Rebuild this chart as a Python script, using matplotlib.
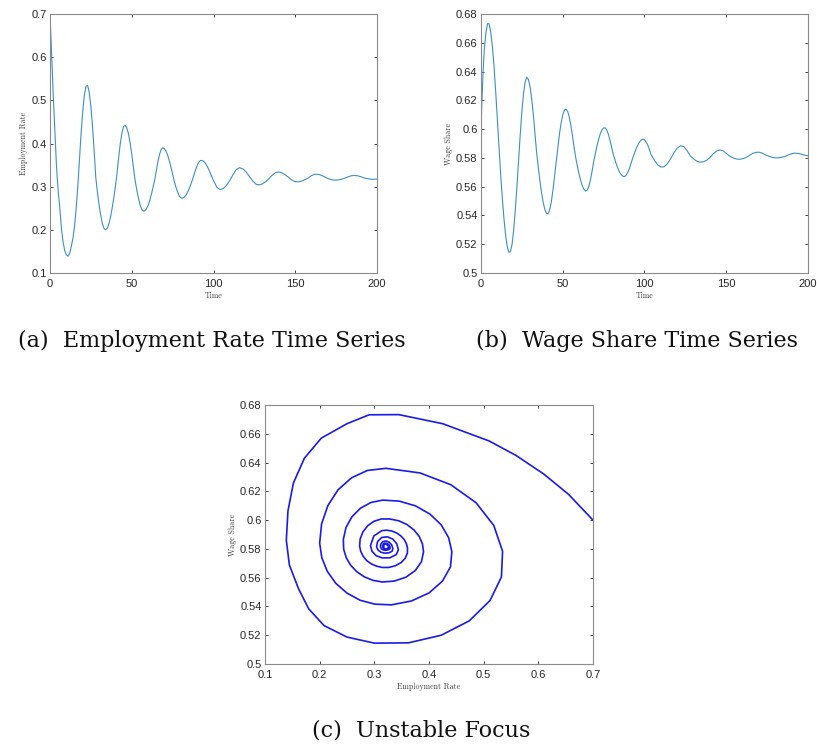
import matplotlib
matplotlib.use("Agg")
import matplotlib.pyplot as plt
from matplotlib.ticker import FormatStrFormatter

plt.rcParams['font.family'] = ['Liberation Sans', 'DejaVu Sans']

# values (sample times, employment rate, wage share)
time = [0, 0.5, 1, 1.5, 2, 3, 4, 5, 6, 7, 8, 9, 10, 11, 12, 13, 14, 15, 16, 17, 18, 19,
        20, 21, 22, 23, 24, 25, 26, 27, 28, 29, 30, 31, 32, 33, 34, 35, 36, 37, 38, 39,
        40, 41, 42, 43, 44, 45, 46, 47, 48, 49, 50, 51, 52, 53, 54, 55, 56, 57, 58, 59,
        60, 61, 62, 63, 64, 65, 66, 67, 68, 69, 70, 71, 72, 73, 74, 75, 76, 77, 78, 79,
        80, 81, 82, 83, 84, 85, 86, 87, 88, 89, 90, 91, 92, 93, 94, 95, 96, 97, 98, 99,
        100, 102, 104, 106, 108, 110, 112, 114, 116, 118, 120, 122, 124, 126, 128, 130,
        132, 134, 136, 138, 140, 142, 144, 146, 148, 150, 152, 154, 156, 158, 160, 162,
        164, 166, 168, 170, 172, 174, 176, 178, 180, 182, 184, 186, 188, 190, 192, 194,
        196, 198, 200]

employment = [0.700, 0.655, 0.610, 0.559, 0.510, 0.425, 0.345, 0.2905, 0.250, 0.203, 0.172,
              0.152, 0.142, 0.139, 0.1446, 0.1611, 0.180, 0.208, 0.250, 0.300, 0.3624, 0.4224,
              0.4737, 0.5116, 0.5325, 0.5346, 0.5185, 0.486, 0.4399, 0.3833, 0.3212, 0.2872,
              0.2584, 0.2337, 0.215, 0.2035, 0.200, 0.2039, 0.2138, 0.2294, 0.2499, 0.274,
              0.3007, 0.3313, 0.3678, 0.4001, 0.4246, 0.4393, 0.4418, 0.436, 0.4224, 0.4016,
              0.3754, 0.3454, 0.3156, 0.2941, 0.2747, 0.259, 0.2482, 0.2433, 0.2439, 0.2486,
              0.2567, 0.2681, 0.282, 0.2979, 0.3148, 0.3362, 0.3577, 0.375, 0.3862, 0.390,
              0.388, 0.382, 0.3724, 0.3598, 0.3449, 0.3284, 0.3129, 0.2994, 0.2878, 0.2791,
              0.274, 0.2731, 0.2751, 0.2795, 0.286, 0.2943, 0.304, 0.3146, 0.3264, 0.3386,
              0.349, 0.3565, 0.3605, 0.3607, 0.3585, 0.3544, 0.3483, 0.3407, 0.3321, 0.3229,
              0.3139, 0.2991, 0.293, 0.2956, 0.3032, 0.3144, 0.3283, 0.3401, 0.344, 0.341,
              0.3338, 0.3238, 0.3134, 0.3059, 0.3041, 0.3066, 0.3119, 0.3189, 0.3269, 0.3326,
              0.3339, 0.3317, 0.3271, 0.321, 0.3151, 0.3115, 0.3112, 0.313, 0.3162, 0.3203,
              0.3258, 0.3288, 0.3285, 0.3263, 0.3227, 0.3189, 0.3162, 0.315, 0.3155, 0.317,
              0.3192, 0.3223, 0.325, 0.326, 0.3253, 0.3233, 0.3205, 0.3186, 0.3174, 0.3172,
              0.3175]

wage_share = [0.600, 0.618, 0.632, 0.645, 0.655, 0.667, 0.6733, 0.6732, 0.667, 0.657, 0.643,
              0.6258, 0.6064, 0.586, 0.5688, 0.5525, 0.5383, 0.5267, 0.5187, 0.5145, 0.5147,
              0.520, 0.530, 0.5441, 0.5605, 0.5783, 0.5963, 0.6121, 0.6246, 0.6328, 0.636,
              0.6345, 0.6294, 0.6211, 0.6101, 0.5973, 0.584, 0.5739, 0.5645, 0.5561, 0.5493,
              0.5443, 0.5416, 0.5411, 0.5438, 0.5494, 0.5576, 0.5675, 0.578, 0.5877, 0.5967,
              0.6042, 0.6099, 0.6132, 0.6139, 0.6123, 0.6083, 0.6023, 0.5949, 0.5866, 0.5798,
              0.5739, 0.5686, 0.5641, 0.5605, 0.5581, 0.557, 0.5576, 0.5603, 0.565, 0.5711,
              0.578, 0.5835, 0.5887, 0.5932, 0.5969, 0.5995, 0.6008, 0.6008, 0.5992, 0.5961,
              0.5918, 0.5868, 0.5819, 0.5783, 0.5749, 0.5719, 0.5696, 0.568, 0.5671, 0.5671,
              0.5683, 0.5705, 0.5735, 0.5771, 0.5806, 0.5838, 0.5866, 0.5891, 0.5911, 0.5924,
              0.593, 0.5927, 0.589, 0.5824, 0.5784, 0.5753, 0.5737, 0.5738, 0.576, 0.5794,
              0.5836, 0.5868, 0.5884, 0.5879, 0.5851, 0.5814, 0.5793, 0.5777, 0.577, 0.5773,
              0.5784, 0.5802, 0.5828, 0.5847, 0.5855, 0.585, 0.5831, 0.5813, 0.5801, 0.5793,
              0.579, 0.5794, 0.5802, 0.5816, 0.583, 0.5838, 0.584, 0.5833, 0.5821, 0.5812,
              0.5804, 0.580, 0.5801, 0.5805, 0.581, 0.5821, 0.5829, 0.5833, 0.5831, 0.5826,
              0.5819, 0.5814]

time_ticks = [0, 50, 100, 150, 200]
emp_ticks = [0.1, 0.2, 0.3, 0.4, 0.5, 0.6, 0.7]
wage_ticks = [0.5, 0.52, 0.54, 0.56, 0.58, 0.6, 0.62, 0.64, 0.66, 0.68]

captions = ["(a)  Employment Rate Time Series",
            "(b)  Wage Share Time Series",
            "(c)  Unstable Focus"]

W, H = 817, 745
fig = plt.figure(figsize=(W / 100, H / 100), dpi=100)


def box(x0, y0, x1, y1):
    # pixel box -> figure fraction
    return [x0 / W, 1 - y1 / H, (x1 - x0) / W, (y1 - y0) / H]


def matlab_style(ax):
    for s in ax.spines.values():
        s.set_color('#8a8a8a')
        s.set_linewidth(0.8)
    ax.tick_params(direction='in', top=True, right=True, length=2.5, width=0.6,
                   color='#262626', labelcolor='#262626', labelsize=8)
    ax.tick_params(axis='x', pad=4.5)
    ax.tick_params(axis='y', pad=2.5)
    ax.yaxis.set_major_formatter(FormatStrFormatter('%g'))
    ax.xaxis.set_major_formatter(FormatStrFormatter('%g'))


lab = dict(family='cmr10', size=5.7, color='#404040')

# (a) employment rate
ax1 = fig.add_axes(box(50, 14, 377, 273))
ax1.plot(time, employment, color='#3d8fc7', lw=0.8)
ax1.set_xlim(0, 200)
ax1.set_ylim(0.1, 0.7)
ax1.set_xticks(time_ticks)
ax1.set_yticks(emp_ticks)
matlab_style(ax1)
ax1.set_xlabel('Time', labelpad=2, **lab)
ax1.set_ylabel('Employment Rate', labelpad=2, **lab)

# (b) wage share
ax2 = fig.add_axes(box(481, 14, 808, 273))
ax2.plot(time, wage_share, color='#3d8fc7', lw=0.8)
ax2.set_xlim(0, 200)
ax2.set_ylim(0.5, 0.68)
ax2.set_xticks(time_ticks)
ax2.set_yticks(wage_ticks)
matlab_style(ax2)
ax2.set_xlabel('Time', labelpad=2, **lab)
ax2.set_ylabel('Wage Share', labelpad=2, **lab)

# (c) phase plane
ax3 = fig.add_axes(box(265, 405, 593, 664))
ax3.plot(employment, wage_share, color='#1a1aee', lw=1.2)
ax3.set_xlim(0.1, 0.7)
ax3.set_ylim(0.5, 0.68)
ax3.set_xticks(emp_ticks)
ax3.set_yticks(wage_ticks)
matlab_style(ax3)
ax3.set_xlabel('Employment Rate', labelpad=2, **lab)
ax3.set_ylabel('Wage Share', labelpad=2, **lab)

cap = dict(family='DejaVu Serif', size=16, color='#111111', ha='center', va='baseline')
fig.text(212 / W, 1 - 347 / H, captions[0], **cap)
fig.text(637 / W, 1 - 347 / H, captions[1], **cap)
fig.text(421 / W, 1 - 737 / H, captions[2], **cap)

fig.savefig('out.png', dpi=100)
